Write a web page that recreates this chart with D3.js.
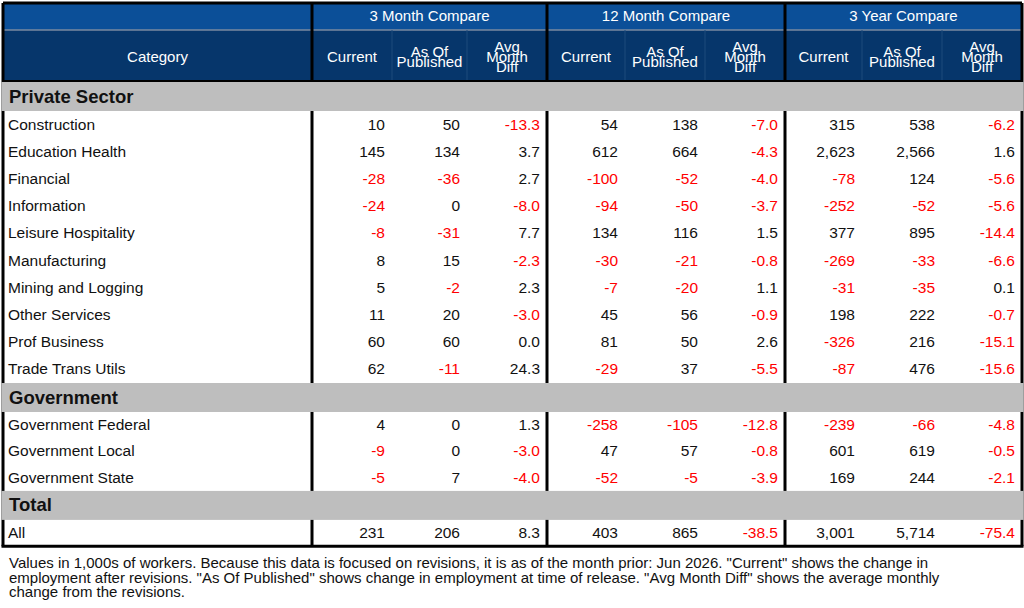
<!DOCTYPE html>
<html><head><meta charset="utf-8">
<script src="https://cdn.jsdelivr.net/npm/d3@7"></script>
<style>
body{margin:0;background:#fff;font-family:"Liberation Sans",Arial,sans-serif;}
text{font-family:"Liberation Sans",Arial,sans-serif;}
</style></head>
<body><svg id="tbl" width="1024" height="608"></svg>
<script>
// data
var groups = ["3 Month Compare","12 Month Compare","3 Year Compare"];
var subCols = [["Current"],["As Of","Published"],["Avg","Month","Diff"]];
var sections = ["Private Sector","Government","Total"];
var privateRows = ["Construction","Education Health","Financial","Information","Leisure Hospitality","Manufacturing","Mining and Logging","Other Services","Prof Business","Trade Trans Utils"];
var privateVals = [
  [10,50,-13.3,54,138,-7.0,315,538,-6.2],
  [145,134,3.7,612,664,-4.3,2623,2566,1.6],
  [-28,-36,2.7,-100,-52,-4.0,-78,124,-5.6],
  [-24,0,-8.0,-94,-50,-3.7,-252,-52,-5.6],
  [-8,-31,7.7,134,116,1.5,377,895,-14.4],
  [8,15,-2.3,-30,-21,-0.8,-269,-33,-6.6],
  [5,-2,2.3,-7,-20,1.1,-31,-35,0.1],
  [11,20,-3.0,45,56,-0.9,198,222,-0.7],
  [60,60,0.0,81,50,2.6,-326,216,-15.1],
  [62,-11,24.3,-29,37,-5.5,-87,476,-15.6]
];
var govRows = ["Government Federal","Government Local","Government State"];
var govVals = [
  [4,0,1.3,-258,-105,-12.8,-239,-66,-4.8],
  [-9,0,-3.0,47,57,-0.8,601,619,-0.5],
  [-5,7,-4.0,-52,-5,-3.9,169,244,-2.1]
];
var totalRows = ["All"];
var totalVals = [[231,206,8.3,403,865,-38.5,3001,5714,-75.4]];
var footnote = ["Values in 1,000s of workers. Because this data is focused on revisions, it is as of the month prior: Jun 2026. \"Current\" shows the change in",
  "employment after revisions. \"As Of Published\" shows change in employment at time of release. \"Avg Month Diff\" shows the average monthly",
  "change from the revisions."];

var svg = d3.select("#tbl");
var left = 3, right = 1022;
var colEdges = [312,392,467,547,625,705,785,862,942,1022];
var groupTop = 3, subTop = 30, headBottom = 81;

// build row list
var rows = [];
var blocks = [[sections[0],privateRows,privateVals],[sections[1],govRows,govVals],[sections[2],totalRows,totalVals]];
blocks.forEach(function(b){
  rows.push({type:"section",label:b[0],h:29});
  b[1].forEach(function(r,i){ rows.push({type:"row",label:r,vals:b[2][i],h:b[0]=="Private Sector"?27.2:26.3}); });
});
var y = headBottom + 1;
rows.forEach(function(r){ r.y = y; y += r.h; });
var tableBottom = y;

// header bands
svg.append("rect").attr("x",left).attr("y",groupTop).attr("width",right-left).attr("height",subTop-groupTop).attr("fill","#0b4f98");
svg.append("rect").attr("x",left).attr("y",subTop).attr("width",right-left).attr("height",headBottom-subTop).attr("fill","#06366b");
svg.append("line").attr("x1",left).attr("x2",right).attr("y1",subTop).attr("y2",subTop).attr("stroke","#7a8aa0").attr("stroke-width",1.5);

groups.forEach(function(g,i){
  var x0 = colEdges[i*3], x1 = colEdges[i*3+3];
  svg.append("text").text(g).attr("x",(x0+x1)/2).attr("y",21).attr("text-anchor","middle")
    .attr("fill","#fff").attr("font-size",15);
});
svg.append("text").text("Category").attr("x",(left+colEdges[0])/2).attr("y",62).attr("text-anchor","middle").attr("fill","#fff").attr("font-size",15);
for (var c=0;c<9;c++){
  var lines = subCols[c%3];
  var cx = (colEdges[c]+colEdges[c+1])/2;
  var lh = 10, y0 = 62 - (lines.length-1)*lh/2;
  lines.forEach(function(l,k){
    svg.append("text").text(l).attr("x",cx).attr("y",y0+k*lh).attr("text-anchor","middle").attr("fill","#fff").attr("font-size",15);
  });
  if (c%3!=0) svg.append("line").attr("x1",colEdges[c]).attr("x2",colEdges[c]).attr("y1",subTop).attr("y2",headBottom).attr("stroke","#1d4a7c");
}

// thick separators and border
[left,colEdges[0],colEdges[3],colEdges[6],right].forEach(function(x){
  svg.append("line").attr("x1",x).attr("x2",x).attr("y1",groupTop).attr("y2",tableBottom).attr("stroke","#000").attr("stroke-width",3);
});

// body rows
rows.forEach(function(r){
  if (r.type=="section"){
    svg.append("rect").attr("x",left-1.5).attr("y",r.y).attr("width",right-left+3).attr("height",r.h).attr("fill","#bebebe");
    svg.append("text").text(r.label).attr("x",9).attr("y",r.y+r.h/2+6).attr("font-size",18.5).attr("font-weight","bold").attr("fill","#111");
  } else {
    svg.append("text").text(r.label).attr("x",8).attr("y",r.y+r.h/2+5).attr("font-size",15.5).attr("fill","#111");
    r.vals.forEach(function(v,c){
      var s = (c%3==2) ? d3.format(".1f")(v) : d3.format(",")(v);
      svg.append("text").text(s.replace("−","-")).attr("x",colEdges[c+1]-7).attr("y",r.y+r.h/2+5)
        .attr("text-anchor","end").attr("font-size",15.5).attr("fill", v<0 ? "#ff0000" : "#111");
    });
  }
});

svg.append("line").attr("x1",left).attr("x2",right).attr("y1",groupTop).attr("y2",groupTop).attr("stroke","#000").attr("stroke-width",3);
svg.append("line").attr("x1",left-1.5).attr("x2",right+1.5).attr("y1",tableBottom).attr("y2",tableBottom).attr("stroke","#000").attr("stroke-width",3);
svg.append("line").attr("x1",left).attr("x2",right).attr("y1",headBottom).attr("y2",headBottom).attr("stroke","#000").attr("stroke-width",2);

footnote.forEach(function(t,i){
  svg.append("text").text(t).attr("x",9).attr("y",568+i*14.5).attr("font-size",15).attr("fill","#111");
});
</script></body></html>
